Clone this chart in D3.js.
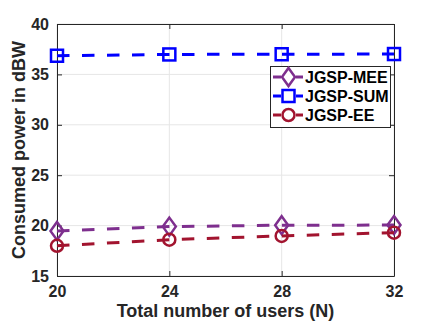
<!DOCTYPE html>
<html>
<head>
<meta charset="utf-8">
<script src="https://cdnjs.cloudflare.com/ajax/libs/d3/7.8.5/d3.min.js"></script>
<style>
body { margin: 0; padding: 0; background: #fff; }
svg { display: block; font-family: "Liberation Sans", Arial, sans-serif; }
</style>
</head>
<body>
<script>
// data
var users = [20, 24, 28, 32];
var sumPower = [36.85, 36.98, 37.0, 37.02];
var meePower = [19.47, 19.9, 20.04, 20.05];
var eePower = [18.0, 18.6, 18.98, 19.3];
var xTicks = [20, 24, 28, 32];
var yTicks = [15, 20, 25, 30, 35, 40];

var series = [
    { name: "JGSP-MEE", values: meePower, color: "#7E2F8E", marker: "diamond" },
    { name: "JGSP-SUM", values: sumPower, color: "#0000FF", marker: "square" },
    { name: "JGSP-EE", values: eePower, color: "#A2142F", marker: "circle" }
];

var width = 436, height = 327;
var mLeft = 57, mRight = 394, mTop = 24, mBottom = 276;
var fontFam = "'Liberation Sans', Arial, sans-serif";

var svg = d3.select("body").append("svg")
    .attr("width", width)
    .attr("height", height);

var x = d3.scaleLinear().domain([20, 32]).range([mLeft, mRight]);
var y = d3.scaleLinear().domain([15, 40]).range([mBottom, mTop]);

// grid
svg.selectAll("line.gx").data(xTicks).enter().append("line")
    .attr("x1", function(d){ return x(d); }).attr("x2", function(d){ return x(d); })
    .attr("y1", mTop).attr("y2", mBottom)
    .style("stroke", "#e6e6e6").style("stroke-width", 1);
svg.selectAll("line.gy").data(yTicks).enter().append("line")
    .attr("y1", function(d){ return y(d); }).attr("y2", function(d){ return y(d); })
    .attr("x1", mLeft).attr("x2", mRight)
    .style("stroke", "#e6e6e6").style("stroke-width", 1);

// axes (ticks inside, box all round)
var axisColor = "#262626";
function styleAxis(g) {
    g.selectAll("path").style("stroke", axisColor).style("stroke-width", 1);
    g.selectAll("line").style("stroke", axisColor);
    g.selectAll("text").style("fill", axisColor).style("font-weight", "bold")
        .style("font-size", "16px").style("font-family", fontFam);
}
svg.append("g").attr("transform", "translate(0," + mBottom + ")")
    .call(d3.axisBottom(x).tickValues(xTicks).tickSizeInner(-5).tickSizeOuter(0).tickPadding(10))
    .call(styleAxis);
svg.append("g").attr("transform", "translate(0," + mTop + ")")
    .call(d3.axisTop(x).tickValues(xTicks).tickSizeInner(-5).tickSizeOuter(0).tickFormat(""))
    .call(styleAxis);
svg.append("g").attr("transform", "translate(" + mLeft + ",0)")
    .call(d3.axisLeft(y).tickValues(yTicks).tickSizeInner(-5).tickSizeOuter(0).tickPadding(8))
    .call(styleAxis);
svg.append("g").attr("transform", "translate(" + mRight + ",0)")
    .call(d3.axisRight(y).tickValues(yTicks).tickSizeInner(-5).tickSizeOuter(0).tickFormat(""))
    .call(styleAxis);

// markers
function drawMarker(g, type, color, cx, cy) {
    if (type === "square") {
        g.append("rect").attr("x", cx - 6).attr("y", cy - 6).attr("width", 12).attr("height", 12)
            .style("fill", "none").style("stroke", color).style("stroke-width", 2.5);
    } else if (type === "diamond") {
        g.append("path")
            .attr("d", "M" + cx + "," + (cy - 9) + "L" + (cx + 6.5) + "," + cy + "L" + cx + "," + (cy + 9) + "L" + (cx - 6.5) + "," + cy + "Z")
            .style("fill", "none").style("stroke", color).style("stroke-width", 2.5);
    } else {
        g.append("circle").attr("cx", cx).attr("cy", cy).attr("r", 6)
            .style("fill", "none").style("stroke", color).style("stroke-width", 2.5);
    }
}

var line = d3.line()
    .x(function(d){ return x(d[0]); })
    .y(function(d){ return y(d[1]); });

series.forEach(function(s) {
    var pts = users.map(function(u, i){ return [u, s.values[i]]; });
    svg.append("path")
        .attr("d", line(pts))
        .style("fill", "none")
        .style("stroke", s.color)
        .style("stroke-width", 3)
        .style("stroke-dasharray", "12.5,12.5");
    var g = svg.append("g");
    pts.forEach(function(p) {
        drawMarker(g, s.marker, s.color, x(p[0]), y(p[1]));
    });
});

// legend
var lx = 270, ly = 66, lw = 120, lh = 61;
svg.append("rect").attr("x", lx + 0.5).attr("y", ly + 0.5).attr("width", lw).attr("height", lh)
    .style("fill", "#fff").style("stroke", axisColor).style("stroke-width", 1);
series.forEach(function(s, i) {
    var cy = ly + 11 + i * 19;
    var g = svg.append("g");
    g.append("line").attr("x1", lx + 3).attr("x2", lx + 33).attr("y1", cy).attr("y2", cy)
        .style("stroke", s.color).style("stroke-width", 3);
    g.append("rect").attr("x", lx + 11).attr("y", cy - 5).attr("width", 15).attr("height", 10).style("fill", "#fff");
    drawMarker(g, s.marker, s.color, lx + 18.5, cy);
    g.append("text").attr("x", lx + 35).attr("y", cy + 6)
        .style("font-family", fontFam)
        .style("font-size", "16px").style("font-weight", "bold").style("fill", "#000")
        .text(s.name);
});

// axis labels
svg.append("text")
    .attr("x", (mLeft + mRight) / 2).attr("y", 317)
    .attr("text-anchor", "middle")
    .style("font-family", fontFam)
    .style("font-size", "18px").style("font-weight", "bold").style("fill", axisColor)
    .text("Total number of users (N)");
svg.append("text")
    .attr("transform", "translate(25," + ((mTop + mBottom) / 2) + ") rotate(-90)")
    .attr("text-anchor", "middle")
    .style("font-family", fontFam)
    .style("font-size", "18px").style("font-weight", "bold").style("fill", axisColor)
    .text("Consumed power in dBW");
</script>
</body>
</html>
